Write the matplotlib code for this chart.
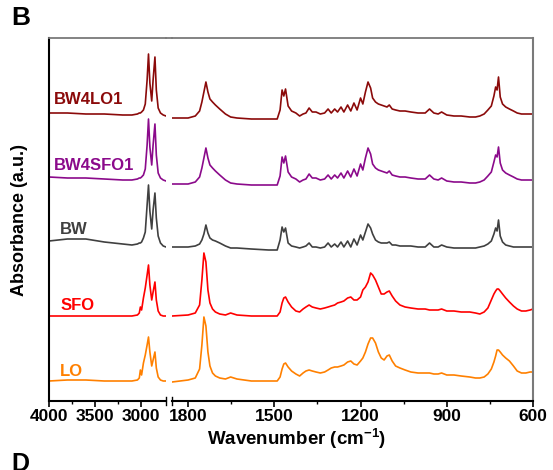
import matplotlib
matplotlib.use("Agg")
import matplotlib.pyplot as plt
from matplotlib.lines import Line2D

plt.rcParams['font.family'] = ['Liberation Sans', 'DejaVu Sans']
plt.rcParams['font.weight'] = 'bold'
plt.rcParams['mathtext.fontset'] = 'custom'
plt.rcParams['mathtext.rm'] = 'Liberation Sans:bold'
plt.rcParams['mathtext.default'] = 'rm'

# ---------------- data (absorbance in arbitrary units, spectra stacked) -------------
wn_high = [4000, 3800, 3600, 3400, 3200, 3100, 3040, 3020, 3008, 2995, 2975, 2955,
           2935, 2920, 2905, 2885, 2870, 2850, 2835, 2815, 2790, 2760, 2730]

wn_low = [1856, 1800, 1775, 1760, 1752, 1745, 1738, 1731, 1724, 1715,
          1705, 1690, 1670, 1652, 1630, 1580, 1520, 1490, 1480, 1473,
          1467, 1461, 1452, 1440, 1425, 1412, 1400, 1390, 1379, 1368,
          1355, 1340, 1325, 1313, 1302, 1290, 1280, 1268, 1258, 1245,
          1234, 1223, 1212, 1200, 1192, 1183, 1174, 1165, 1158, 1148,
          1138, 1128, 1118, 1108, 1100, 1090, 1078, 1063, 1045, 1025,
          1000, 975, 960, 945, 930, 918, 900, 875, 850, 820,
          800, 785, 770, 757, 745, 736, 730, 725, 720, 714,
          706, 695, 682, 668, 655, 640, 625, 610, 600]

bw4lo1_high = [288, 288, 287, 287, 286, 286, 287, 288, 288, 289, 291, 297,
               321, 347, 318, 300, 321, 344, 311, 293, 288, 286, 285]
bw4lo1_low = [283, 283, 285, 290, 299, 309, 319, 309, 302, 299,
              296, 292, 287, 284, 283, 282, 282, 282, 291, 311,
              305, 312, 295, 290, 288, 285, 287, 288, 293, 289,
              289, 287, 288, 292, 288, 292, 289, 294, 289, 296,
              290, 298, 291, 303, 297, 309, 319, 313, 303, 299,
              297, 296, 295, 294, 296, 292, 291, 290, 290, 289,
              288, 288, 292, 288, 287, 289, 286, 285, 285, 284,
              284, 285, 287, 291, 295, 305, 314, 311, 324, 304,
              297, 294, 292, 290, 288, 287, 287, 287, 287]

bw4sfo1_high = [224, 223, 223, 222, 221, 221, 222, 223, 223, 224, 226, 232,
                256, 282, 254, 236, 256, 277, 246, 228, 223, 221, 220]
bw4sfo1_low = [217, 217, 219, 224, 233, 243, 253, 243, 236, 233,
               230, 226, 221, 218, 217, 216, 216, 216, 225, 244,
               238, 245, 229, 224, 222, 219, 221, 222, 227, 223,
               223, 221, 222, 226, 222, 226, 223, 228, 223, 230,
               224, 232, 225, 237, 231, 243, 253, 247, 237, 233,
               231, 230, 229, 228, 230, 226, 225, 224, 224, 223,
               222, 222, 226, 222, 221, 223, 220, 219, 219, 218,
               218, 219, 221, 225, 229, 239, 246, 244, 254, 238,
               231, 228, 226, 224, 222, 221, 221, 221, 221]

bw_high = [160, 162, 162, 159, 157, 156, 157, 158, 158, 159, 163, 169,
           196, 216, 190, 172, 191, 208, 183, 165, 158, 155, 154]
bw_low = [154, 154, 155, 157, 161, 167, 176, 168, 163, 161,
          160, 158, 155, 153, 153, 152, 151, 151, 161, 174,
          169, 173, 158, 155, 154, 153, 154, 155, 158, 154,
          154, 153, 154, 158, 154, 157, 154, 159, 154, 160,
          154, 162, 156, 166, 161, 169, 177, 173, 167, 161,
          159, 158, 158, 158, 159, 156, 156, 155, 155, 155,
          154, 154, 158, 154, 154, 156, 154, 153, 153, 153,
          153, 154, 155, 157, 160, 167, 173, 170, 181, 165,
          159, 156, 155, 154, 154, 154, 154, 154, 154]

sfo_high = [85, 85, 85, 85, 85, 85, 86, 88, 94, 91, 103, 113,
            126, 136, 116, 101, 109, 119, 101, 90, 86, 85, 85]
sfo_low = [85, 86, 88, 96, 121, 148, 139, 111, 98, 92,
           89, 87, 86, 88, 86, 85, 85, 85, 89, 98,
           103, 104, 99, 94, 90, 89, 92, 94, 96, 94,
           93, 92, 93, 94, 95, 96, 98, 99, 100, 103,
           104, 101, 101, 104, 111, 114, 119, 128, 126, 121,
           114, 107, 107, 109, 110, 105, 100, 96, 94, 93,
           92, 92, 91, 91, 91, 92, 90, 90, 89, 89,
           88, 87, 89, 93, 101, 107, 110, 112, 112, 110,
           107, 103, 99, 95, 92, 90, 90, 91, 92]

lo_high = [20, 21, 21, 20, 20, 20, 21, 23, 31, 26, 38, 46,
           56, 64, 49, 35, 41, 49, 33, 24, 21, 20, 20]
lo_low = [19, 21, 23, 32, 56, 84, 75, 49, 35, 28,
          25, 23, 22, 24, 22, 20, 20, 20, 24, 32,
          37, 38, 34, 30, 27, 25, 28, 30, 31, 30,
          29, 28, 29, 31, 33, 34, 34, 35, 36, 39,
          40, 37, 36, 40, 43, 49, 57, 63, 63, 58,
          49, 43, 41, 45, 46, 40, 35, 33, 31, 29,
          28, 28, 28, 27, 27, 28, 26, 26, 25, 24,
          23, 23, 24, 27, 32, 39, 45, 51, 51, 49,
          46, 43, 40, 35, 30, 28, 28, 29, 29]

names = ["BW4LO1", "BW4SFO1", "BW", "SFO", "LO"]
highs = [bw4lo1_high, bw4sfo1_high, bw_high, sfo_high, lo_high]
lows = [bw4lo1_low, bw4sfo1_low, bw_low, sfo_low, lo_low]
colors = ["#8b0a0a", "#8b0a8b", "#404040", "#ff0000", "#ff8000"]
label_y = [301, 236, 171, 96, 29]
label_x = [3945, 3945, 3880, 3880, 3880]

# ---------------- figure ----------------
W, H = 553, 470
fig = plt.figure(figsize=(W / 100, H / 100), dpi=100)
bot = (H - 401) / H
hgt = 363 / H
axL = fig.add_axes([49 / W, bot, 117 / W, hgt])
axR = fig.add_axes([172 / W, bot, 361 / W, hgt])

for hi, lo_, c in zip(highs, lows, colors):
    axL.plot(wn_high, hi, color=c, lw=1.2)
    axR.plot(wn_low, lo_, color=c, lw=1.2)

for n, c, x, y in zip(names, colors, label_x, label_y):
    axL.text(x, y, n, color=c, fontsize=12, fontweight='bold', ha='left', va='center')

axL.set_xlim(4000, 2730)
axR.set_xlim(1856, 600)
for ax in (axL, axR):
    ax.set_ylim(0, 363)
    ax.set_yticks([])
    ax.tick_params(axis='x', which='major', direction='out', length=4, width=1.2,
                   labelsize=12.5, pad=2)
    ax.tick_params(axis='x', which='minor', direction='out', length=2.5, width=1.0)

axL.set_xticks([4000, 3500, 3000])
axL.set_xticks([3750, 3250], minor=True)
axR.set_xticks([1800, 1500, 1200, 900, 600])
axR.set_xticks([1650, 1350, 1050, 750], minor=True)

gray = "#7a7a7a"
axL.spines['right'].set_visible(False)
axR.spines['left'].set_visible(False)
for ax in (axL, axR):
    ax.spines['bottom'].set_color('black')
    ax.spines['bottom'].set_linewidth(1.5)
    ax.spines['top'].set_color(gray)
    ax.spines['top'].set_linewidth(1.3)
axL.spines['left'].set_color('black')
axL.spines['left'].set_linewidth(1.5)
axR.spines['right'].set_color(gray)
axR.spines['right'].set_linewidth(1.5)

# bridge the top frame across the break
fig.add_artist(Line2D([166 / W, 172 / W], [1 - 38 / H, 1 - 38 / H], color=gray, lw=1.3))

# break marks
axL.plot([1, 1], [-0.012, 0.012], transform=axL.transAxes, color='black', lw=1.0, clip_on=False)
axR.plot([0, 0], [-0.012, 0.012], transform=axR.transAxes, color='black', lw=1.0, clip_on=False)

fig.text(20 / W, 1 - 220 / H, "Absorbance (a.u.)", rotation=90, ha='center', va='center',
         fontsize=13, fontweight='bold')
fig.text(297 / W, 1 - 439 / H, r"Wavenumber (cm$^{-1}$)", ha='center', va='center',
         fontsize=13.5, fontweight='bold')
fig.text(11 / W, 1 - 18 / H, "B", ha='left', va='center', fontsize=19, fontweight='bold')
fig.text(11 / W, 1 - 452 / H, "D", ha='left', va='top', fontsize=18, fontweight='bold')

fig.savefig("out.png", dpi=100)
